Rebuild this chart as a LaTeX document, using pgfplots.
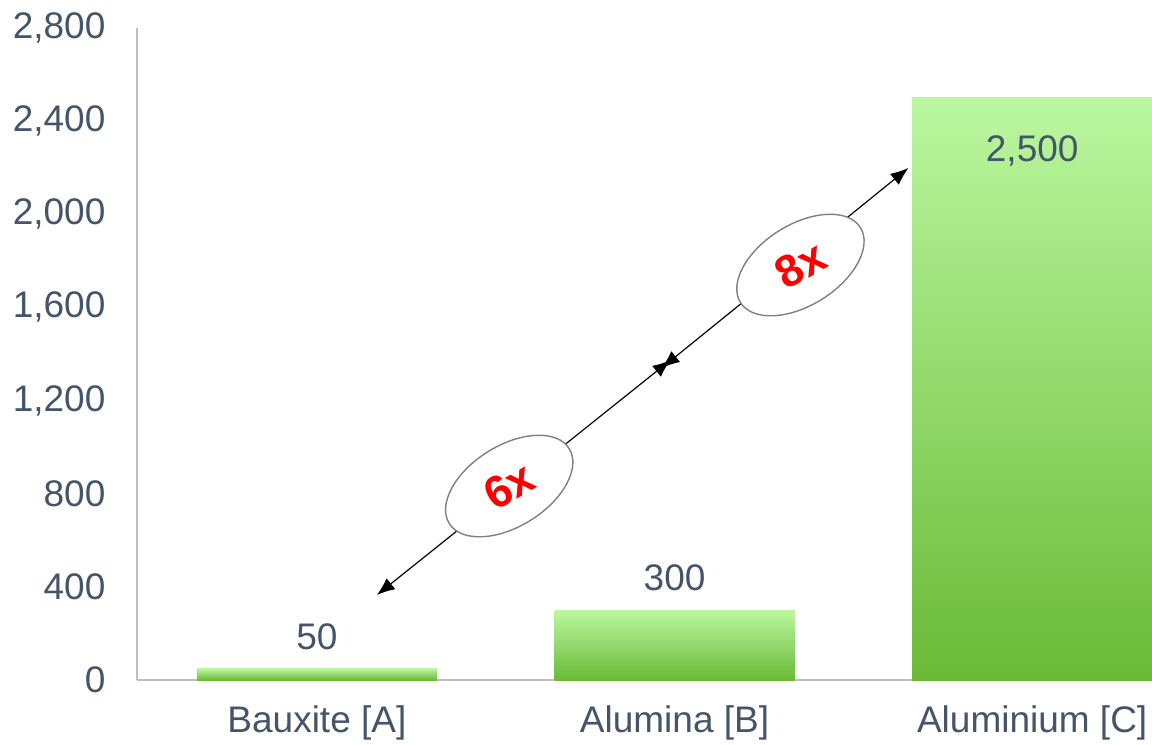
\documentclass[border=0pt]{standalone}
\usepackage{pgfplots}
\pgfplotsset{compat=1.18}
\usepackage{fontspec}
\setmainfont{Liberation Sans}
\usetikzlibrary{arrows.meta,shapes.geometric}
\definecolor{txt}{HTML}{44546A}
\definecolor{barTop}{RGB}{187,247,160}
\definecolor{barBot}{RGB}{106,186,55}
\definecolor{axgray}{HTML}{BFBFBF}
\definecolor{ellgray}{HTML}{808080}
\pgfplotsset{greenbar/.style={ybar, bar width=120bp, bar shift=0pt, draw=none,
  top color=barTop, bottom color=barBot, nodes near coords,
  every node near coord/.append style={text=txt, font=\fontsize{18.5bp}{22bp}\selectfont}}}
\begin{document}
\begin{tikzpicture}
\begin{axis}[name=ax,
  scale only axis, width=507.5bp, height=326bp,
  xmin=-0.503, xmax=2.335, ymin=0, ymax=2800,
  axis x line*=bottom, axis y line*=left,
  axis line style={draw=axgray, line width=0.75bp},
  xtick={0,1,2},
  xticklabels={Bauxite [A], Alumina [B], Aluminium [C]},
  ytick={0,400,...,2800},
  major tick length=0pt,
  tick style={draw=none},
  ticklabel style={font=\fontsize{18.5bp}{22bp}\selectfont, text=txt},
  /pgf/number format/assume math mode=true,
  /pgf/number format/1000 sep={,},
  yticklabel style={xshift=-12.3bp},
  xticklabel style={yshift=-9.4bp},
  clip=false,
]
\addplot[greenbar, every node near coord/.append style={yshift=5.8bp}]
  coordinates {(0,50)};
\addplot[greenbar, every node near coord/.append style={yshift=6.2bp}]
  coordinates {(1,300)};
\addplot[greenbar, every node near coord/.append style={anchor=north, yshift=-15.5bp}]
  coordinates {(2,2500)};

\draw[{Latex[length=9bp,width=7bp]}-{Latex[length=9bp,width=7bp]}, line width=0.6bp]
  (axis cs:0.1676,365) -- (axis cs:0.989,1374);
\draw[{Latex[length=9bp,width=7bp]}-{Latex[length=9bp,width=7bp]}, line width=0.6bp]
  (axis cs:0.964,1340) -- (axis cs:1.654,2199);

\node[ellipse, draw=ellgray, fill=white, line width=0.7bp, rotate=32,
  minimum width=70.7bp, minimum height=40.4bp, inner sep=0pt] at (axis cs:0.5377,833) {};
\node[ellipse, draw=ellgray, fill=white, line width=0.7bp, rotate=32,
  minimum width=70.7bp, minimum height=40.4bp, inner sep=0pt] at (axis cs:1.352,1782) {};
\node[rotate=30, text=red, font=\bfseries\fontsize{22.5bp}{25bp}\selectfont] at (axis cs:0.5377,833) {6x};
\node[rotate=30, text=red, font=\bfseries\fontsize{22.5bp}{25bp}\selectfont] at (axis cs:1.352,1782) {8x};
\end{axis}
\pgfresetboundingbox
\path ([xshift=-68.5bp,yshift=-32.5bp]ax.south west) rectangle ([yshift=14bp]ax.north east);
\end{tikzpicture}
\end{document}
